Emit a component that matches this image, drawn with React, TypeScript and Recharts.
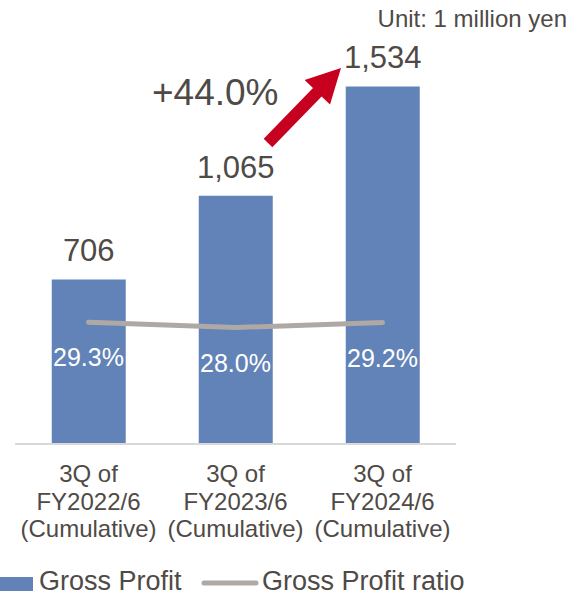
import React from "react";
import { ComposedChart, Bar, Line, XAxis, YAxis, LabelList } from "recharts";

const categories = [
  ["3Q of", "FY2022/6", "(Cumulative)"],
  ["3Q of", "FY2023/6", "(Cumulative)"],
  ["3Q of", "FY2024/6", "(Cumulative)"],
];
const grossProfit = [706, 1065, 1534];
const grossProfitRatio = [29.3, 28.0, 29.2];
const seriesNames = ["Gross Profit", "Gross Profit ratio"];
const growthLabel = "+44.0%";
const unitLabel = "Unit: 1 million yen";

const data = categories.map((c, i) => ({
  name: c.join("\n"),
  gp: grossProfit[i],
  ratio: grossProfitRatio[i],
}));

const FONT = "'Liberation Sans', Arial, sans-serif";
const TEXT = "#4F4A46";
const BAR = "#6283B7";
const LINE = "#AEA9A4";
const RED = "#C8001F";

const fmt = (v: number) => v.toLocaleString("en-US");

const Tick = (props: any) => {
  const { x, y, payload } = props;
  const lines = String(payload.value).split("\n");
  return (
    <g>
      {lines.map((l, i) => (
        <text key={i} x={x} y={y + 30 + i * 27.5} textAnchor="middle" fill={TEXT} fontSize={24} fontFamily={FONT}>
          {l}
        </text>
      ))}
    </g>
  );
};

const ValueLabel = (props: any) => {
  const { x, y, width, value } = props;
  return (
    <text x={x + width / 2} y={y - 18} textAnchor="middle" fill={TEXT} fontSize={31} fontFamily={FONT}>
      {fmt(value)}
    </text>
  );
};

const RatioLabel = (props: any) => {
  const { x, y, value } = props;
  return (
    <text x={x} y={y + 44} textAnchor="middle" fill="#FFFFFF" fontSize={25} fontFamily={FONT}>
      {value.toFixed(1)}%
    </text>
  );
};

export default function App() {
  return (
    <div style={{ position: "absolute", left: 0, top: 0, width: 568, height: 596, background: "#fff", overflow: "hidden" }}>
      <ComposedChart
        width={568}
        height={596}
        data={data}
        margin={{ top: 71, right: 112, bottom: 122, left: 15 }}
        barCategoryGap="25%"
      >
        <XAxis
          dataKey="name"
          height={30}
          axisLine={{ stroke: "#D9D9D9", strokeWidth: 2 }}
          tickLine={false}
          tick={<Tick />}
          interval={0}
        />
        <YAxis yAxisId="left" hide domain={[0, 1600]} />
        <YAxis yAxisId="right" orientation="right" hide domain={[0, 89.7]} />
        <Bar yAxisId="left" dataKey="gp" name={seriesNames[0]} fill={BAR} isAnimationActive={false}>
          <LabelList dataKey="gp" content={<ValueLabel />} />
        </Bar>
        <Line
          yAxisId="right"
          dataKey="ratio"
          name={seriesNames[1]}
          stroke={LINE}
          strokeWidth={5}
          strokeLinecap="round"
          dot={false}
          activeDot={false}
          type="linear"
          isAnimationActive={false}
        >
          <LabelList dataKey="ratio" content={<RatioLabel />} />
        </Line>
      </ComposedChart>
      <svg width={568} height={596} style={{ position: "absolute", left: 0, top: 0, pointerEvents: "none" }}>
        <text x={567} y={27} textAnchor="end" fill={TEXT} fontSize={24} fontFamily={FONT}>{unitLabel}</text>
        <text x={152} y={105} fill={TEXT} fontSize={37} fontFamily={FONT}>{growthLabel}</text>
        <polygon
          points="272.3,147.2 321.6,96.5 330,104.6 341,68 304.6,80 313,88.1 263.7,138.8"
          fill={RED}
        />
        <rect x={0} y={577} width={33} height={14} fill={BAR} />
        <text x={39} y={590} fill={TEXT} fontSize={27} fontFamily={FONT}>{seriesNames[0]}</text>
        <line x1={204} y1={583} x2={256} y2={583} stroke={LINE} strokeWidth={5} strokeLinecap="round" />
        <text x={262} y={590} fill={TEXT} fontSize={27} fontFamily={FONT}>{seriesNames[1]}</text>
      </svg>
    </div>
  );
}
